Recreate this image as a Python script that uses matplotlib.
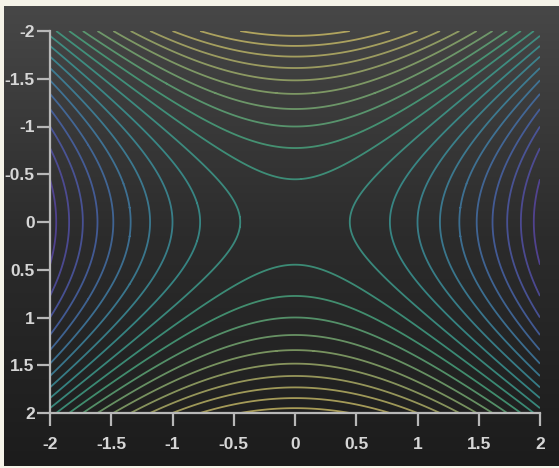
import numpy as np
import matplotlib
matplotlib.use('Agg')
import matplotlib.pyplot as plt
from matplotlib.colors import LinearSegmentedColormap

# surface z = y^2 - x^2 on [-2, 2] x [-2, 2]
x_vals = np.linspace(-2, 2, 401)
y_vals = np.linspace(-2, 2, 401)
levels = [-3.8, -3.4, -3.0, -2.6, -2.2, -1.8, -1.4, -1.0, -0.6, -0.2,
          0.2, 0.6, 1.0, 1.4, 1.8, 2.2, 2.6, 3.0, 3.4, 3.8]
tick_vals = [-2, -1.5, -1, -0.5, 0, 0.5, 1, 1.5, 2]
tick_labels = ['-2', '-1.5', '-1', '-0.5', '0', '0.5', '1', '1.5', '2']

X, Y = np.meshgrid(x_vals, y_vals)
Z = Y**2 - X**2

# muted viridis-like colours as seen on the chalkboard
cmap = LinearSegmentedColormap.from_list(
    'chalk', ['#5a48a8', '#4a62b0', '#3f86aa', '#3a9c98', '#45a882',
              '#86ae70', '#b8b468', '#cdbd66'])

fig = plt.figure(figsize=(5.59, 4.68), dpi=100, facecolor='#f5f3e8')

# chalkboard background with a soft vertical gradient
bg = fig.add_axes([4/559, 2/468, 555/559, 460/468])
grad = np.linspace(0, 1, 256).reshape(-1, 1)
bg.imshow(grad, aspect='auto', extent=[0, 1, 0, 1],
          cmap=LinearSegmentedColormap.from_list('bg', ['#1c1c1c', '#2c2c2c', '#474747']),
          origin='lower')
bg.set_axis_off()

ax = fig.add_axes([50/559, 55/468, 490/559, 382/468])
ax.set_facecolor('none')
ax.contour(X, Y, Z, levels=levels, cmap=cmap, linewidths=1.3, alpha=0.8)
ax.set_xlim(-2, 2)
ax.set_ylim(2, -2)

ax.set_xticks(tick_vals)
ax.set_xticklabels(tick_labels)
ax.set_yticks(tick_vals)
ax.set_yticklabels(tick_labels)

for s in ['top', 'right']:
    ax.spines[s].set_visible(False)
for s in ['left', 'bottom']:
    ax.spines[s].set_color('#b8b8b8')
    ax.spines[s].set_linewidth(1.6)

ax.tick_params(direction='out', length=9.5, width=1.6, color='#b8b8b8',
               labelcolor='#d6d6d6', labelsize=12.5)
ax.tick_params(axis='x', pad=8)
ax.tick_params(axis='y', pad=1.5)
for lab in ax.get_xticklabels() + ax.get_yticklabels():
    lab.set_fontfamily('Liberation Sans')
    lab.set_fontweight('bold')

plt.savefig('out.png', dpi=100, facecolor=fig.get_facecolor())
